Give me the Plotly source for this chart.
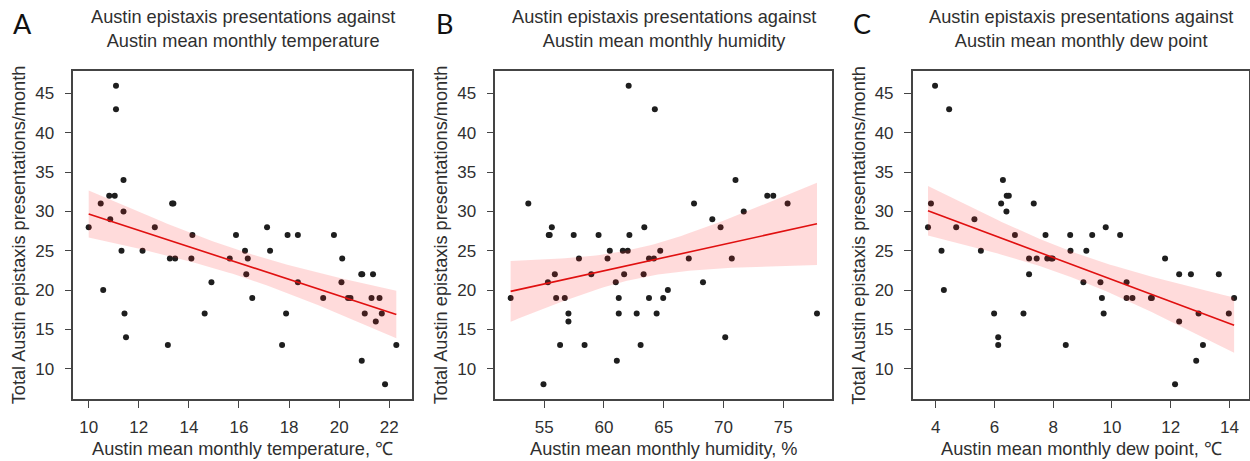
import numpy as np
import plotly.graph_objects as go

# ---------------- data ----------------
temp_x = [10.00, 10.48, 10.58, 10.82, 10.86, 11.04, 11.09, 11.09, 11.39, 11.39, 11.31, 11.43, 11.49,
          12.15, 12.64, 13.16, 13.33, 13.38, 13.24, 13.45, 14.14, 14.10, 14.90, 14.63, 15.63, 15.88,
          16.24, 16.35, 16.29, 16.53, 17.12, 17.24, 17.72, 17.88, 17.94, 18.35, 18.35, 19.36, 19.79,
          20.12, 20.09, 20.35, 20.45, 20.88, 20.92, 21.35, 20.90, 21.02, 21.29, 21.61, 21.46, 21.70,
          21.83, 22.28]
temp_y = [28, 31, 20, 32, 29, 32, 46, 43, 34, 30, 25, 17, 14,
          25, 28, 13, 31, 31, 24, 24, 27, 24, 21, 17, 24, 27,
          25, 24, 22, 19, 28, 25, 13, 17, 27, 27, 21, 19, 27,
          24, 21, 19, 19, 22, 22, 22, 11, 17, 19, 19, 16, 17,
          8, 13]

hum_x = [52.19, 53.67, 54.94, 55.31, 55.38, 55.46, 55.64, 55.89, 56.00, 56.33, 56.72, 57.03, 57.03,
         57.47, 57.91, 58.38, 58.94, 59.55, 60.30, 60.49, 60.99, 61.08, 61.24, 61.24, 61.58, 61.69,
         61.99, 62.13, 62.07, 62.74, 63.07, 64.26, 63.38, 63.32, 63.77, 64.18, 64.71, 63.77, 64.41,
         64.96, 65.35, 67.10, 67.54, 68.29, 69.07, 69.76, 70.15, 70.70, 71.01, 71.70, 73.67, 74.17,
         75.37, 77.83]
hum_y = [19, 31, 8, 21, 27, 27, 28, 22, 19, 13, 19, 17, 16,
         27, 24, 13, 22, 27, 24, 25, 21, 11, 19, 17, 25, 22,
         25, 27, 46, 17, 13, 43, 28, 22, 24, 24, 25, 19, 17,
         19, 20, 24, 31, 21, 29, 28, 14, 24, 34, 30, 32, 32,
         31, 17]

dew_x = [3.74, 3.84, 3.98, 4.20, 4.28, 4.46, 4.70, 5.32, 5.54, 5.99, 6.13, 6.13, 6.23, 6.29, 6.41,
         6.42, 6.49, 6.70, 6.99, 7.18, 7.18, 7.34, 7.44, 7.74, 7.80, 7.93, 7.98, 8.43, 8.58, 8.59,
         9.03, 9.13, 9.33, 9.79, 9.61, 9.66, 9.72, 10.28, 10.50, 10.50, 10.70, 11.33, 11.36, 11.81,
         12.15, 12.29, 12.29, 12.69, 12.87, 12.95, 13.10, 13.64, 13.98, 14.16]
dew_y = [28, 31, 46, 25, 20, 43, 28, 29, 25, 17, 14, 13, 31, 34, 30,
         32, 32, 27, 17, 22, 24, 31, 24, 27, 24, 24, 24, 13, 27, 25,
         21, 25, 27, 28, 21, 19, 17, 27, 21, 19, 19, 19, 19, 24,
         8, 22, 16, 22, 11, 17, 13, 22, 17, 19]

panel_letters = ["A", "B", "C"]
panel_titles = ["Austin epistaxis presentations against<br>Austin mean monthly temperature",
                "Austin epistaxis presentations against<br>Austin mean monthly humidity",
                "Austin epistaxis presentations against<br>Austin mean monthly dew point"]
x_titles = ["Austin mean monthly temperature, ℃",
            "Austin mean monthly humidity, %",
            "Austin mean monthly dew point, ℃"]
y_title = "Total Austin epistaxis presentations/month"
x_ticks = [[10, 12, 14, 16, 18, 20, 22], [55, 60, 65, 70, 75], [4, 6, 8, 10, 12, 14]]
y_ticks = [10, 15, 20, 25, 30, 35, 40, 45]
T_CRIT = 2.0066  # t(0.975, df=52)

# ---------------- layout geometry ----------------
W, H = 1250, 461
x_domains = [(73.3, 411.7), (495.3, 832.3), (912.7, 1249.4)]
y_dom = (1 - 399.3 / H, 1 - 70.7 / H)

FONT = "Liberation Sans, Arial, Helvetica, sans-serif"
TXT = "#2f2f2f"
AX = "#444444"

fig = go.Figure()
annotations = []

datasets = [(temp_x, temp_y), (hum_x, hum_y), (dew_x, dew_y)]

for i, (xs, ys) in enumerate(datasets):
    xa = "x" if i == 0 else f"x{i+1}"
    ya = "y" if i == 0 else f"y{i+1}"
    x = np.array(xs, float)
    y = np.array(ys, float)
    n = len(x)
    b, a = np.polyfit(x, y, 1)
    xg = np.linspace(x.min(), x.max(), 80)
    yhat = a + b * xg
    resid = y - (a + b * x)
    s = np.sqrt(np.sum(resid ** 2) / (n - 2))
    se = s * np.sqrt(1.0 / n + (xg - x.mean()) ** 2 / np.sum((x - x.mean()) ** 2))
    lo, hi = yhat - T_CRIT * se, yhat + T_CRIT * se

    fig.add_trace(go.Scatter(x=x, y=y, mode="markers", xaxis=xa, yaxis=ya,
                             marker=dict(size=6, color="#1e1e1e", line=dict(width=0)),
                             showlegend=False, hoverinfo="skip"))
    fig.add_trace(go.Scatter(x=np.concatenate([xg, xg[::-1]]), y=np.concatenate([hi, lo[::-1]]),
                             mode="lines", fill="toself", fillcolor="rgba(255,40,40,0.17)",
                             line=dict(width=0), xaxis=xa, yaxis=ya,
                             showlegend=False, hoverinfo="skip"))
    fig.add_trace(go.Scatter(x=xg, y=yhat, mode="lines", line=dict(color="#e01010", width=1.6),
                             xaxis=xa, yaxis=ya, showlegend=False, hoverinfo="skip"))

    span = x.max() - x.min()
    xr = [x.min() - 0.05 * span, x.max() + 0.05 * span]
    yr_span = 46 - 8
    yr = [8 - 0.05 * yr_span, 46 + 0.05 * yr_span]

    d0, d1 = x_domains[i]
    axis_common = dict(showgrid=False, zeroline=False, showline=True, linecolor=AX, linewidth=1.5,
                       mirror=True, ticks="outside", ticklen=7, tickwidth=1.3, tickcolor=AX,
                       tickfont=dict(family=FONT, size=17, color=TXT))
    fig.layout[f"xaxis{'' if i == 0 else i+1}"] = dict(
        domain=[d0 / W, d1 / W], range=xr, tickvals=x_ticks[i], anchor=ya,
        ticklabelstandoff=5, **axis_common)
    fig.layout[f"yaxis{'' if i == 0 else i+1}"] = dict(
        domain=list(y_dom), range=yr, tickvals=y_ticks, anchor=xa,
        ticklabelstandoff=7, **axis_common)

    cx = (d0 + d1) / 2 / W
    annotations.append(dict(text=panel_titles[i], x=cx, y=1 - 29 / H, xref="paper", yref="paper",
                            showarrow=False, xanchor="center", yanchor="middle",
                            font=dict(family=FONT, size=18.2, color=TXT)))
    annotations.append(dict(text=x_titles[i], x=cx, y=1 - 449 / H, xref="paper", yref="paper",
                            showarrow=False, xanchor="center", yanchor="middle",
                            font=dict(family=FONT, size=18.2, color=TXT)))
    annotations.append(dict(text=y_title, x=(d0 - 54) / W, y=(y_dom[0] + y_dom[1]) / 2,
                            xref="paper", yref="paper", textangle=-90, showarrow=False,
                            xanchor="center", yanchor="middle",
                            font=dict(family=FONT, size=18.2, color=TXT)))
    annotations.append(dict(text=panel_letters[i], x=(d0 - 51) / W, y=1 - 24 / H,
                            xref="paper", yref="paper", showarrow=False,
                            xanchor="center", yanchor="middle",
                            font=dict(family="Lato, Open Sans, sans-serif", size=27, color="#111111")))

fig.update_layout(width=W, height=H, margin=dict(l=0, r=0, t=0, b=0),
                  paper_bgcolor="white", plot_bgcolor="white",
                  annotations=annotations, showlegend=False)

fig.write_html("out.html", config={"displayModeBar": False})
